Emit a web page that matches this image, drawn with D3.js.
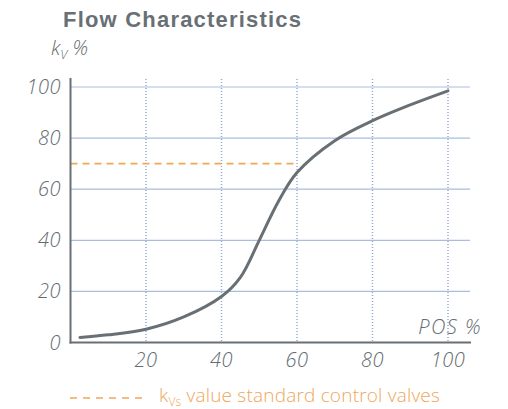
<!doctype html>
<html lang="en">
<head>
  <meta charset="utf-8">
  <title>Flow Characteristics</title>
  <style>
    body { margin: 0; background: #fff; }
    text { font-family: 'Open Sans', 'Liberation Sans', sans-serif; }
  </style>
</head>
<body>
  <script src="https://cdn.jsdelivr.net/npm/d3@7"></script>
  <script>
    // curve: valve position % -> kv %
    var pos = [2.5, 10, 20, 30, 40, 45, 50, 55, 60, 70, 80, 90, 100]
    var kv = [2, 3, 5.2, 10, 18, 25.5, 40, 55, 66.5, 79, 86.8, 93, 98.5]
    var kvsLevel = 70
    var kvsEnd = 60
    var xTicks = [20, 40, 60, 80, 100]
    var yTicks = [0, 20, 40, 60, 80, 100]

    var grey = '#687075'
    var textGrey = '#646c71'
    var orange = '#eea75a'
    var blue = '#a9bddf'

    var width = 508
    var height = 409

    var svg = d3.select('body').append('svg')
      .attr('width', width)
      .attr('height', height)

    var x = d3.scaleLinear()
      .domain([0, 100])
      .range([70.5, 448])

    var y = d3.scaleLinear()
      .domain([0, 100])
      .range([342.5, 87])

    // horizontal grid
    svg.append('g')
      .selectAll('line')
      .data(yTicks.filter(function(d) { return d > 0 }))
      .enter().append('line')
        .attr('x1', x(0))
        .attr('x2', 470)
        .attr('y1', function(d) { return y(d) })
        .attr('y2', function(d) { return y(d) })
        .style('stroke', blue)
        .style('stroke-width', 1.2)

    // vertical dotted grid
    svg.append('g')
      .selectAll('line')
      .data(xTicks)
      .enter().append('line')
        .attr('x1', function(d) { return x(d) })
        .attr('x2', function(d) { return x(d) })
        .attr('y1', 79)
        .attr('y2', y(0))
        .style('stroke', '#8faad9')
        .style('stroke-width', 1.5)
        .style('stroke-dasharray', '1 2')

    // kvs dashed reference
    svg.append('line')
      .attr('x1', x(0))
      .attr('x2', x(kvsEnd))
      .attr('y1', y(kvsLevel))
      .attr('y2', y(kvsLevel))
      .style('stroke', orange)
      .style('stroke-width', 1.6)
      .style('stroke-dasharray', '7 5')

    // axes lines
    svg.append('line')
      .attr('x1', x(0)).attr('x2', x(0))
      .attr('y1', 78).attr('y2', y(0) + 1)
      .style('stroke', grey)
      .style('stroke-width', 2)

    svg.append('line')
      .attr('x1', x(0) - 1).attr('x2', 471)
      .attr('y1', y(0)).attr('y2', y(0))
      .style('stroke', grey)
      .style('stroke-width', 2)

    var line = d3.line()
      .x(function(d) { return x(d[0]) })
      .y(function(d) { return y(d[1]) })
      .curve(d3.curveCatmullRom.alpha(0.5))

    svg.append('path')
      .datum(d3.zip(pos, kv))
      .attr('d', line)
      .style('fill', 'none')
      .style('stroke', grey)
      .style('stroke-width', 3)
      .style('stroke-linecap', 'round')

    // tick labels
    svg.append('g')
      .selectAll('text')
      .data(xTicks)
      .enter().append('text')
        .attr('x', function(d) { return x(d) })
        .attr('y', 367)
        .attr('text-anchor', 'middle')
        .style('font-size', '20px')
        .style('font-style', 'italic')
        .style('font-weight', 300)
        .style('letter-spacing', '0.5px')
        .style('fill', textGrey)
        .text(function(d) { return d })

    svg.append('g')
      .selectAll('text')
      .data(yTicks)
      .enter().append('text')
        .attr('x', 61)
        .attr('y', function(d) { return y(d) + 7 })
        .attr('text-anchor', 'end')
        .style('font-size', '20px')
        .style('font-style', 'italic')
        .style('font-weight', 300)
        .style('letter-spacing', '0.5px')
        .style('fill', textGrey)
        .text(function(d) { return d })

    // title
    svg.append('text')
      .attr('x', 63)
      .attr('y', 27)
      .style('font-family', "'Liberation Sans', sans-serif")
      .style('font-size', '22px')
      .style('font-weight', 'bold')
      .style('letter-spacing', '1.2px')
      .style('fill', grey)
      .text('Flow Characteristics')

    // axis titles
    var yTitle = svg.append('text')
      .attr('x', 51)
      .attr('y', 55)
      .style('font-size', '20px')
      .style('font-style', 'italic')
      .style('font-weight', 300)
      .style('fill', textGrey)
    yTitle.append('tspan').text('k')
    yTitle.append('tspan').attr('dy', 4).style('font-size', '13px').text('V')
    yTitle.append('tspan').attr('dy', -4).text(' %')

    svg.append('text')
      .attr('x', 482)
      .attr('y', 334)
      .attr('text-anchor', 'end')
      .style('font-size', '20px')
      .style('font-style', 'italic')
      .style('font-weight', 300)
      .style('letter-spacing', '1.5px')
      .style('fill', textGrey)
      .text('POS %')

    // legend
    svg.append('line')
      .attr('x1', 70).attr('x2', 146)
      .attr('y1', 398).attr('y2', 398)
      .style('stroke', orange)
      .style('stroke-width', 1.6)
      .style('stroke-dasharray', '7 6')

    var legend = svg.append('text')
      .attr('x', 159)
      .attr('y', 402)
      .style('font-size', '19px')
      .style('font-weight', 300)
      .style('letter-spacing', '0.2px')
      .style('fill', orange)
    legend.append('tspan').text('k')
    legend.append('tspan').attr('dy', 4).style('font-size', '12px').text('Vs')
    legend.append('tspan').attr('dy', -4).text(' value standard control valves')
  </script>
</body>
</html>
